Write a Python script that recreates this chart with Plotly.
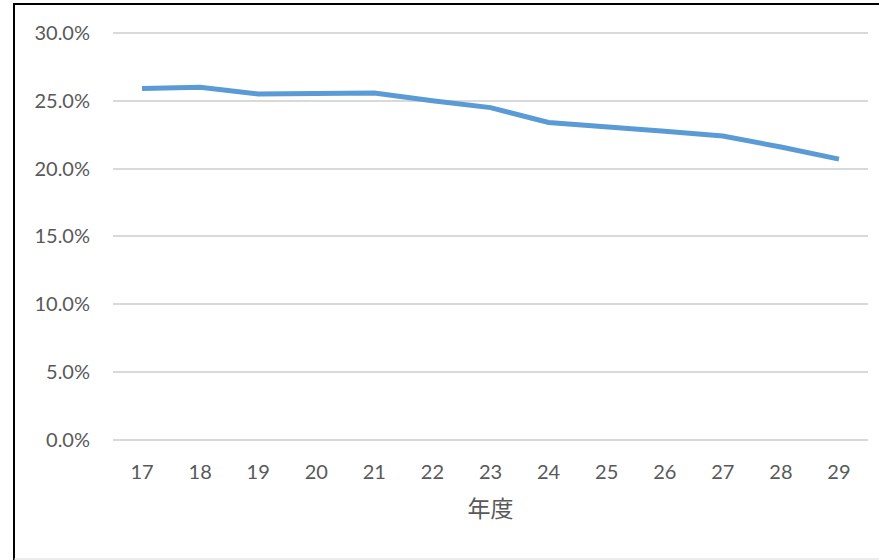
import plotly.graph_objects as go

years = ["17", "18", "19", "20", "21", "22", "23", "24", "25", "26", "27", "28", "29"]
rates = [0.259, 0.260, 0.255, 0.2555, 0.2557, 0.250, 0.245, 0.234, 0.231, 0.2275, 0.224, 0.216, 0.207]
y_ticks = [0, 0.05, 0.10, 0.15, 0.20, 0.25, 0.30]

fig = go.Figure()
fig.add_trace(go.Scatter(
    x=years, y=rates, mode="lines",
    line=dict(color="#5B9BD5", width=5, shape="linear"),
    showlegend=False, hoverinfo="skip",
))

M_L, M_R, M_T, M_B = 113, 11, 30, 120
font_main = "Lato, 'Open Sans', sans-serif"
fig.update_layout(
    width=879, height=560,
    margin=dict(l=M_L, r=M_R, t=M_T, b=M_B),
    paper_bgcolor="white", plot_bgcolor="white",
    font=dict(family=font_main, color="#595959", size=20),
    xaxis=dict(
        type="category", range=[-0.5, 12.5],
        showgrid=False, zeroline=False, showline=False,
        ticks="", ticklabelstandoff=18,
        tickfont=dict(size=20, color="#595959"),
        title=dict(text="年度", font=dict(family="'Noto Sans CJK JP', sans-serif", size=23, color="#595959"), standoff=18),
    ),
    yaxis=dict(
        range=[0, 0.3022], tickvals=y_ticks, tickformat=".1%",
        showgrid=True, gridcolor="#D9D9D9", gridwidth=1.5,
        zeroline=True, zerolinecolor="#D9D9D9", zerolinewidth=1.5,
        showline=False, ticks="", ticklabelstandoff=22,
        tickfont=dict(size=20, color="#595959"),
    ),
)

# outer chart border (decoration)
pw = 879 - M_L - M_R
ph = 560 - M_T - M_B
def px_x(p):
    return (p - M_L) / pw
def px_y(p):
    return (560 - M_B - p) / ph
fig.add_shape(type="line", xref="paper", yref="paper", x0=px_x(14), x1=px_x(14), y0=px_y(4), y1=px_y(560), line=dict(color="black", width=2))
fig.add_shape(type="line", xref="paper", yref="paper", x0=px_x(13), x1=px_x(879), y0=px_y(4), y1=px_y(4), line=dict(color="black", width=2))
fig.add_shape(type="line", xref="paper", yref="paper", x0=px_x(14), x1=px_x(879), y0=px_y(559), y1=px_y(559), line=dict(color="#D9D9D9", width=1))

fig.write_html("out.html")
